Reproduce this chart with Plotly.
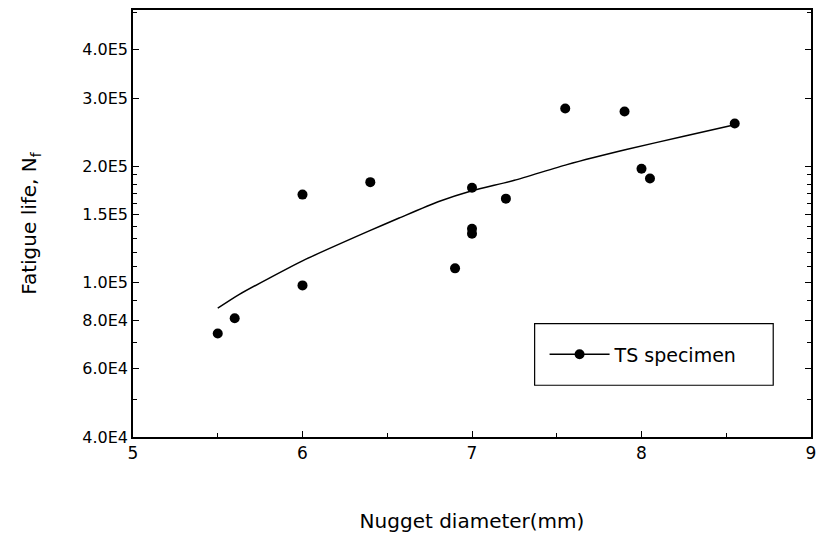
import plotly.graph_objects as go

# Measured data (nugget diameter in mm, fatigue life in cycles)
diam = [5.5, 5.6, 6.0, 6.0, 6.4, 6.9, 7.0, 7.0, 7.0, 7.2, 7.55, 7.9, 8.0, 8.05, 8.55]
life = [7.4e4, 8.1e4, 1.69e5, 9.85e4, 1.82e5, 1.09e5, 1.76e5, 1.38e5, 1.34e5, 1.65e5,
        2.82e5, 2.77e5, 1.97e5, 1.86e5, 2.58e5]

# Fitted trend curve
fit_x = [5.5, 5.63, 6.0, 6.39, 6.57, 6.8, 7.0, 7.25, 7.56, 7.91, 8.25, 8.55]
fit_y = [8.6e4, 9.35e4, 1.14e5, 1.36e5, 1.47e5, 1.62e5, 1.73e5, 1.84e5, 2.02e5, 2.21e5, 2.39e5, 2.56e5]

x_ticks = [5, 6, 7, 8, 9]
y_ticks = [4e4, 6e4, 8e4, 1e5, 1.5e5, 2e5, 3e5, 4e5]
y_labels = ["4.0E4", "6.0E4", "8.0E4", "1.0E5", "1.5E5", "2.0E5", "3.0E5", "4.0E5"]
y_minor = [5e4, 7e4, 9e4, 1.1e5, 1.2e5, 1.3e5, 1.4e5, 1.6e5, 1.7e5, 1.8e5, 1.9e5, 5e5]
legend_name = "TS specimen"

FONT = "DejaVu Sans"

W, H = 824, 542
ML, MR, MT, MB = 133, 9, 8, 105
PW, PH = W - ML - MR, H - MT - MB


def px_x(px):
    return (px - ML) / PW


def px_y(py):
    return (H - MB - py) / PH


fig = go.Figure()
fig.add_trace(go.Scatter(x=fit_x, y=fit_y, mode="lines",
                         line=dict(color="black", width=1.5, shape="spline", smoothing=0.6),
                         showlegend=False, hoverinfo="skip"))
fig.add_trace(go.Scatter(x=diam, y=life, mode="markers",
                         marker=dict(color="black", size=10), showlegend=False))
fig.add_trace(go.Scatter(x=[None], y=[None], mode="lines+markers", name=legend_name,
                         line=dict(color="black", width=1.5),
                         marker=dict(color="black", size=10)))

fig.update_layout(
    width=W, height=H,
    paper_bgcolor="white", plot_bgcolor="white",
    margin=dict(l=ML, r=MR, t=MT, b=MB),
    font=dict(family=FONT, color="black", size=15),
    showlegend=True,
    legend=dict(x=px_x(547), y=px_y(354), xanchor="left", yanchor="middle",
                bgcolor="rgba(0,0,0,0)", borderwidth=0,
                font=dict(size=19, family=FONT), itemwidth=60),
    shapes=[dict(type="rect", xref="paper", yref="paper",
                 x0=px_x(537), x1=px_x(777),
                 y0=px_y(385), y1=px_y(323),
                 line=dict(color="black", width=1.2))],
)

fig.update_xaxes(range=[5, 9], tickvals=x_ticks, ticktext=[str(v) for v in x_ticks],
                 ticks="inside", ticklen=6, tickcolor="black", tickwidth=1.2,
                 showline=True, linecolor="black", linewidth=1.5, mirror=True,
                 showgrid=False, zeroline=False,
                 minor=dict(tickvals=[5.5, 6.5, 7.5, 8.5], ticks="inside", ticklen=4,
                            tickcolor="black", showgrid=False),
                 tickfont=dict(size=17),
                 title=dict(text="Nugget diameter(mm)", font=dict(size=20), standoff=52))

fig.update_yaxes(type="log", range=[4.60206, 5.7045], tickvals=y_ticks, ticktext=y_labels,
                 ticks="inside", ticklen=6, tickcolor="black", tickwidth=1.2,
                 showline=True, linecolor="black", linewidth=1.5, mirror="ticks",
                 showgrid=False, zeroline=False,
                 minor=dict(tickvals=y_minor, ticks="inside", ticklen=4,
                            tickcolor="black", showgrid=False),
                 tickfont=dict(size=16),
                 title=dict(text="Fatigue life, N<sub>f</sub>", font=dict(size=20), standoff=40))

fig.write_html("out.html", config={"displayModeBar": False},
               post_script="document.body.style.margin='0';document.body.style.overflow='hidden';")
